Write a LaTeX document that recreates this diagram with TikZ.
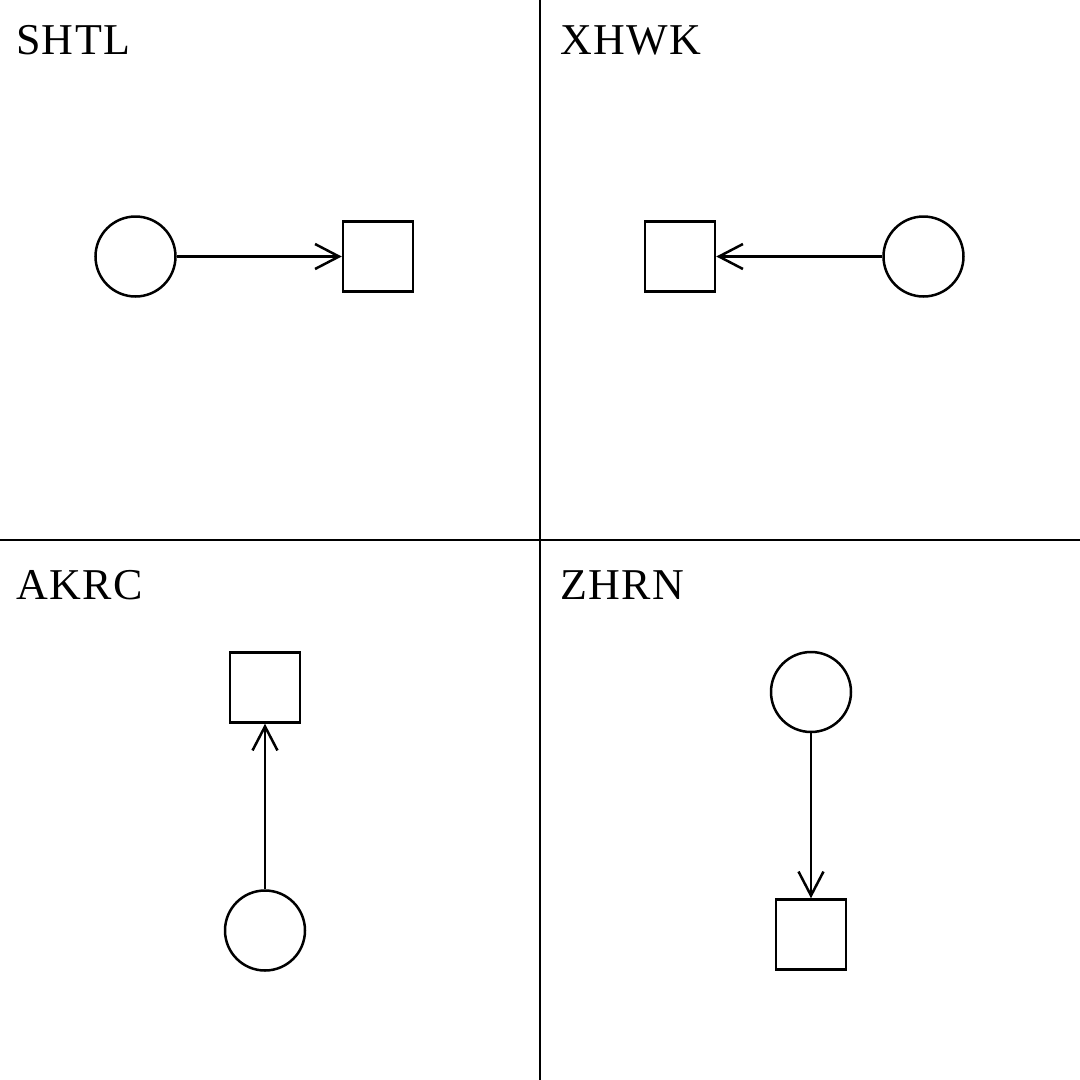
\documentclass[tikz,border=0pt]{standalone}
\usepackage{fontspec}
\setmainfont{Liberation Serif}[LetterSpace=3]
\usetikzlibrary{arrows.meta}
\tikzset{
  lbl/.style={anchor=base west, inner sep=0pt, font=\fontsize{44}{53}\selectfont},
  circ/.style={draw, circle, minimum size=80pt, inner sep=0pt},
  sq/.style={draw, rectangle, minimum size=70pt, inner sep=0pt},
  conn/.style={-{Straight Barb[length=24pt,width=25pt]}},
}
\begin{document}
\begin{tikzpicture}[x=1pt,y=-1pt,line width=2.5pt]
\useasboundingbox (0,0) rectangle (1080,1080);
\coordinate (vt) at (540,0);
\coordinate (vb) at (540,1080);
\coordinate (hl) at (0,540);
\coordinate (hr) at (1080,540);
\draw (vt) -- (vb);
\draw (hl) -- (hr);
\node[lbl] (t1) at (15,54) {SHTL};
\node[lbl] (t2) at (559,54) {XHWK};
\node[lbl] (t3) at (15,599) {AKRC};
\node[lbl] (t4) at (559,599) {ZHRN};
% panel 1
\node[circ] (c1) at (135.5,256.5) {};
\node[sq] (s1) at (378,256.5) {};
\draw[conn] (c1) -- (s1);
% panel 2
\node[sq] (s2) at (680,256.5) {};
\node[circ] (c2) at (923.5,256.5) {};
\draw[conn] (c2) -- (s2);
% panel 3
\node[sq] (s3) at (265,687.5) {};
\node[circ] (c3) at (265,930.5) {};
\draw[conn] (c3) -- (s3);
% panel 4
\node[circ] (c4) at (811,692) {};
\node[sq] (s4) at (811,934.5) {};
\draw[conn] (c4) -- (s4);
\end{tikzpicture}
\end{document}
